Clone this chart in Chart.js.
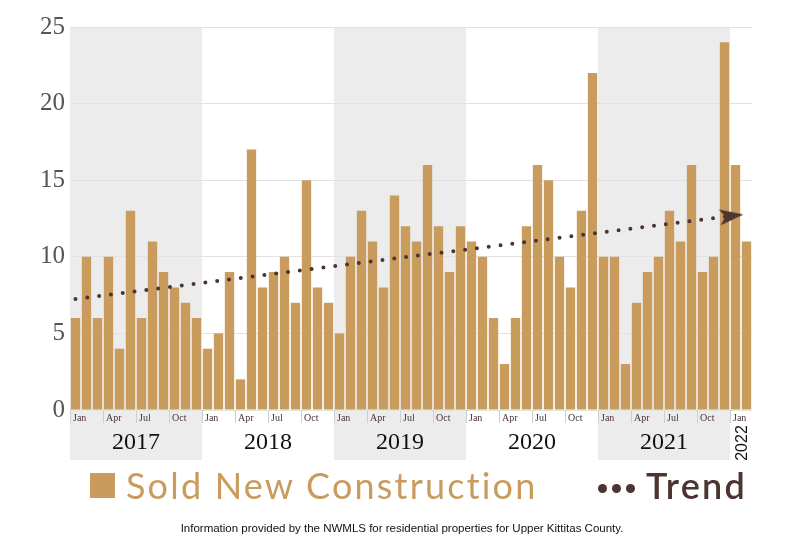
<!DOCTYPE html>
<html>
<head>
<meta charset="utf-8">
<script src="https://cdn.jsdelivr.net/npm/chart.js@4.4.0/dist/chart.umd.min.js"></script>
<style>
  body { margin: 0; background: #fff; }
  #wrap { position: relative; width: 800px; height: 550px; }
  #myChart { position: absolute; left: 0; top: 0; }
  .sq { position: absolute; left: 90px; top: 473px; width: 25px; height: 25px; background: #c99c5e; }
  .lg1 { position: absolute; left: 126px; top: 463px; font: 36px Lato, sans-serif; letter-spacing: 2.2px; color: #c99c5e; white-space: nowrap; }
  .lg2 { position: absolute; left: 646px; top: 463px; font: 600 36px Lato, sans-serif; letter-spacing: 2.2px; color: #4a3530; white-space: nowrap; }
  .dot { position: absolute; top: 484px; width: 9px; height: 9px; border-radius: 50%; background: #4a3530; }
  .note { position: absolute; left: 0; width: 804px; top: 522px; text-align: center; font: 11.5px "Liberation Sans Narrow", "Liberation Sans", sans-serif; color: #111; }
</style>
</head>
<body>
<div id="wrap">
  <canvas id="myChart" width="800" height="550"></canvas>
  <div class="sq"></div>
  <div class="lg1">Sold New Construction</div>
  <div class="dot" style="left:598px"></div>
  <div class="dot" style="left:612px"></div>
  <div class="dot" style="left:626px"></div>
  <div class="lg2">Trend</div>
  <div class="note">Information provided by the NWMLS for residential properties for Upper Kittitas County.</div>
</div>
<script>
// monthly sold new construction
const years = ['2017', '2018', '2019', '2020', '2021', '2022'];
const monthNames = ['Jan', 'Feb', 'Mar', 'Apr', 'May', 'Jun', 'Jul', 'Aug', 'Sep', 'Oct', 'Nov', 'Dec'];
const quarterTicks = ['Jan', 'Apr', 'Jul', 'Oct'];
const sold2017 = [6, 10, 6, 10, 4, 13, 6, 11, 9, 8, 7, 6];
const sold2018 = [4, 5, 9, 2, 17, 8, 9, 10, 7, 15, 8, 7];
const sold2019 = [5, 10, 13, 11, 8, 14, 12, 11, 16, 12, 9, 12];
const sold2020 = [11, 10, 6, 3, 6, 12, 16, 15, 10, 8, 13, 22];
const sold2021 = [10, 10, 3, 7, 9, 10, 13, 11, 16, 9, 10, 24];
const sold2022 = [16, 11];
const trendStart = 7.25;   // at Jan 2017
const trendEnd = 12.7;     // at Jan 2022 (arrow)
const yTicks = [0, 5, 10, 15, 20, 25];

const soldByYear = [sold2017, sold2018, sold2019, sold2020, sold2021, sold2022];
const labels = [];
const sold = [];
soldByYear.forEach((arr, yi) => {
    arr.forEach((v, mi) => {
        labels.push(monthNames[mi] + ' ' + years[yi]);
        sold.push(v);
    });
});
const trend = sold.map(() => null);
trend[0] = trendStart;
trend[60] = trendEnd;

const barColor = '#c99c5e';
const trendColor = '#4a3530';

// arrow head for the end of the trend line
const arrow = document.createElement('canvas');
arrow.width = 34;
arrow.height = 18;
(function () {
    const a = arrow.getContext('2d');
    a.fillStyle = trendColor;
    a.beginPath();
    a.moveTo(25, 9);
    a.lineTo(1, 1);
    a.lineTo(7, 9);
    a.lineTo(1, 17);
    a.closePath();
    a.fill();
})();

// shaded year bands, month ticks and year labels under the axis
const yearBands = {
    id: 'yearBands',
    beforeDraw(chart) {
        const x = chart.scales.x;
        const c = chart.ctx;
        const ca = chart.chartArea;
        const half = (x.getPixelForValue(1) - x.getPixelForValue(0)) / 2;
        c.save();
        years.forEach((y, yi) => {
            const first = yi * 12;
            const last = Math.min(first + 11, sold.length - 1);
            const left = x.getPixelForValue(first) - half;
            const right = x.getPixelForValue(last) + half;
            if (yi % 2 === 0 && yi < 5) {
                c.fillStyle = '#ececec';
                c.fillRect(left, ca.top, right - left, 460 - ca.top);
            }
        });
        c.restore();
    },
    afterDraw(chart) {
        const x = chart.scales.x;
        const c = chart.ctx;
        const ca = chart.chartArea;
        const half = (x.getPixelForValue(1) - x.getPixelForValue(0)) / 2;
        c.save();
        for (let i = 0; i < sold.length; i++) {
            const m = i % 12;
            if (m % 3 !== 0) continue;
            const left = x.getPixelForValue(i) - half;
            c.strokeStyle = '#cfcfcf';
            c.lineWidth = 1;
            c.beginPath();
            c.moveTo(Math.round(left) + 0.5, ca.bottom);
            c.lineTo(Math.round(left) + 0.5, ca.bottom + 13);
            c.stroke();
            c.fillStyle = trendColor;
            c.font = '10px "Liberation Serif", serif';
            c.textAlign = 'left';
            c.textBaseline = 'middle';
            c.fillText(quarterTicks[m / 3], left + 3, ca.bottom + 8);
        }
        years.forEach((y, yi) => {
            const first = yi * 12;
            const last = Math.min(first + 11, sold.length - 1);
            const mid = (x.getPixelForValue(first) + x.getPixelForValue(last)) / 2;
            c.fillStyle = '#111';
            if (yi < 5) {
                c.font = '24px "Liberation Serif", serif';
                c.textAlign = 'center';
                c.textBaseline = 'middle';
                c.fillText(y, mid, ca.bottom + 33);
            } else {
                c.translate(mid + 2, ca.bottom + 33);
                c.rotate(-Math.PI / 2);
                c.font = '16px "Liberation Sans", sans-serif';
                c.textAlign = 'center';
                c.textBaseline = 'middle';
                c.fillText(y, 0, 0);
            }
        });
        c.restore();
    }
};

const ctx = document.getElementById('myChart');
new Chart(ctx, {
    type: 'bar',
    data: {
        labels: labels,
        datasets: [{
            type: 'line',
            label: 'Trend',
            data: trend,
            order: 0,
            spanGaps: true,
            borderColor: trendColor,
            borderWidth: 4,
            borderDash: [0, 11.9],
            borderCapStyle: 'round',
            pointRadius: trend.map((v, i) => (i === 60 ? 12 : 0)),
            pointStyle: arrow,
            pointRotation: -7,
            pointBackgroundColor: trendColor,
            fill: false
        }, {
            label: 'Sold New Construction',
            data: sold,
            order: 1,
            backgroundColor: barColor,
            barPercentage: 0.85,
            categoryPercentage: 1
        }]
    },
    options: {
        responsive: false,
        animation: false,
        layout: { padding: { top: 27, right: 48, bottom: 90, left: 0 } },
        plugins: {
            legend: { display: false },
            tooltip: { enabled: false }
        },
        scales: {
            x: {
                grid: { display: false },
                border: { display: false },
                ticks: { display: false },
                afterFit(s) { s.height = 50; }
            },
            y: {
                min: 0,
                max: 25,
                afterBuildTicks(s) { s.ticks = yTicks.map(v => ({ value: v })); },
                grid: { color: '#e2e2e2', drawTicks: false },
                border: { display: false },
                ticks: {
                    padding: 5,
                    color: '#555',
                    font: { family: '"Liberation Serif", serif', size: 25 }
                },
                afterFit(s) { s.width = 70; }
            }
        }
    },
    plugins: [yearBands]
});
</script>
</body>
</html>
